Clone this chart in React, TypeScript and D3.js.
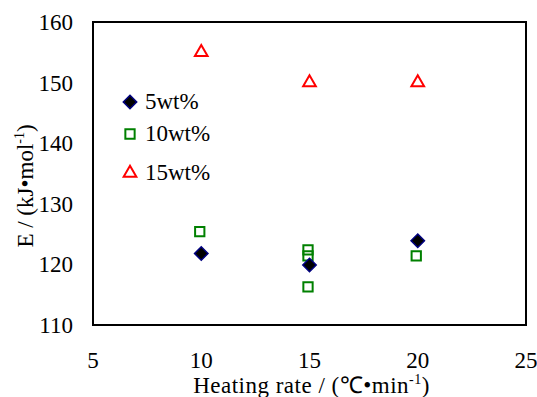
import React, { useEffect, useRef } from 'react';
import * as d3 from 'd3';

const rates = [10, 15, 20];
const wt5 = [121.8, 119.9, 123.9];
const wt10 = [
  [10, 125.4],
  [15, 122.4],
  [15, 121.4],
  [15, 116.3],
  [20, 121.4],
];
const wt15 = [155, 150, 150];
const xTicks = [5, 10, 15, 20, 25];
const yTicks = [110, 120, 130, 140, 150, 160];

const App = () => {
  const ref = useRef<SVGSVGElement>(null);

  useEffect(() => {
    const svg = d3.select(ref.current);
    svg.selectAll('*').remove();

    const width = 537;
    const height = 397;
    const m = { left: 93, top: 22, right: 526, bottom: 325 };
    const font = '"Liberation Serif", "Times New Roman", serif';
    const fs = 23;

    const x = d3.scaleLinear().domain([5, 25]).range([m.left, m.right]);
    const y = d3.scaleLinear().domain([110, 160]).range([m.bottom, m.top]);

    svg.attr('viewBox', [0, 0, width, height]).style('font-family', font);

    svg.append('rect')
      .attr('x', m.left).attr('y', m.top)
      .attr('width', m.right - m.left).attr('height', m.bottom - m.top)
      .attr('fill', 'none').attr('stroke', '#000').attr('stroke-width', 2);

    svg.selectAll('.yt').data(yTicks).join('text')
      .attr('x', 73).attr('y', d => y(d)).attr('dy', '0.35em')
      .attr('text-anchor', 'end').attr('font-size', fs)
      .text(d => d);

    svg.selectAll('.xt').data(xTicks).join('text')
      .attr('x', d => x(d)).attr('y', 368)
      .attr('text-anchor', 'middle').attr('font-size', fs)
      .text(d => d);

    const xt = svg.append('text')
      .attr('x', (m.left + m.right) / 2 + 2).attr('y', 393)
      .attr('text-anchor', 'middle').attr('font-size', fs)
      .attr('letter-spacing', 0.5);
    xt.append('tspan').text('Heating rate / (℃•min');
    xt.append('tspan').attr('dy', -9).attr('font-size', 14).text('-1');
    xt.append('tspan').attr('dy', 9).text(')');

    const yt = svg.append('text')
      .attr('transform', `translate(33,186) rotate(-90)`)
      .attr('text-anchor', 'middle').attr('font-size', fs);
    yt.append('tspan').text('E / (kJ•mol');
    yt.append('tspan').attr('dy', -9).attr('font-size', 14).text('-1');
    yt.append('tspan').attr('dy', 9).text(')');

    const diamond = d3.symbol().type(d3.symbolDiamond2).size(115);
    const square = d3.symbol().type(d3.symbolSquare2).size(110);
    const tri = d3.symbol().type(d3.symbolTriangle2).size(115);

    const drawDiamond = (g: any) => g.attr('d', diamond())
      .attr('fill', '#000').attr('stroke', '#000080').attr('stroke-width', 1.5);
    const drawSquare = (g: any) => g.attr('d', square())
      .attr('fill', 'none').attr('stroke', '#008000').attr('stroke-width', 2);
    const drawTri = (g: any) => g.attr('d', tri())
      .attr('fill', 'none').attr('stroke', '#ff0000').attr('stroke-width', 2);

    svg.selectAll('.s15').data(wt15).join('path')
      .attr('transform', (d, i) => `translate(${x(rates[i])},${y(d)})`)
      .call(drawTri);
    svg.selectAll('.s10').data(wt10).join('path')
      .attr('transform', d => `translate(${x(d[0]) - 1.5},${y(d[1])})`)
      .call(drawSquare);
    svg.selectAll('.s5').data(wt5).join('path')
      .attr('transform', (d, i) => `translate(${x(rates[i])},${y(d)})`)
      .call(drawDiamond);

    const legend = [
      { label: '5wt%', draw: drawDiamond, cy: 102 },
      { label: '10wt%', draw: drawSquare, cy: 134 },
      { label: '15wt%', draw: drawTri, cy: 173 },
    ];
    legend.forEach(l => {
      svg.append('path').attr('transform', `translate(130,${l.cy})`).call(l.draw);
      svg.append('text').attr('x', 145).attr('y', l.cy + 7)
        .attr('font-size', fs).text(l.label);
    });
  }, []);

  return <svg ref={ref} width={537} height={397} style={{ display: 'block', position: 'absolute', left: 0, top: 0 }}></svg>;
};

export default App;
